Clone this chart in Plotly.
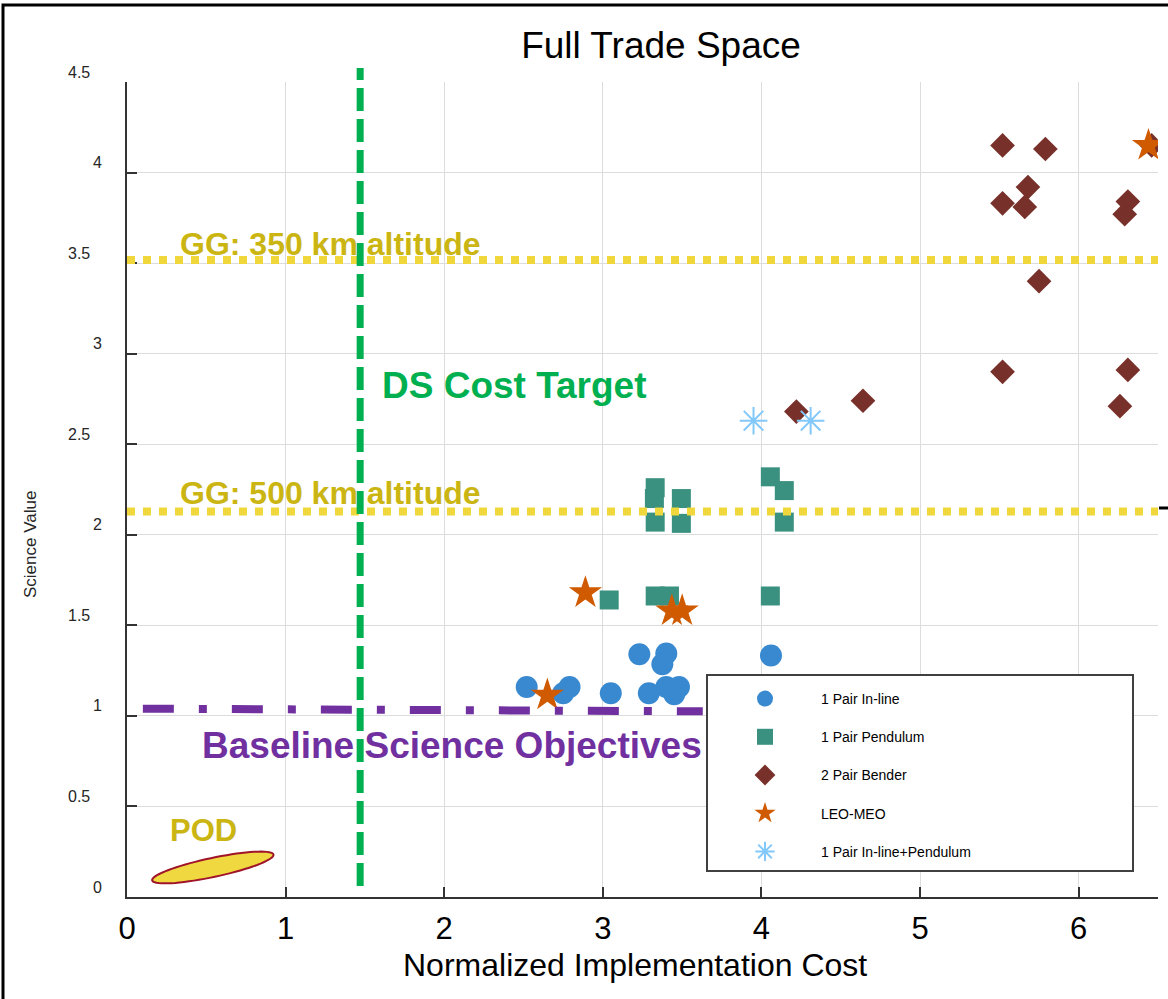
import numpy as np
import plotly.graph_objects as go

# ---------------- data ----------------
inline_x = [2.52, 2.79, 2.75, 3.05, 3.23, 3.40, 3.375, 3.29, 3.40, 3.48, 3.45, 4.06]
inline_y = [1.16, 1.16, 1.125, 1.125, 1.34, 1.345, 1.285, 1.125, 1.16, 1.16, 1.12, 1.333]

pend_x = [3.33, 3.325, 3.33, 3.495, 3.495, 4.056, 4.144, 4.144, 3.04, 3.33, 3.42, 4.056]
pend_y = [2.26, 2.20, 2.07, 2.20, 2.063, 2.32, 2.244, 2.07, 1.64, 1.662, 1.662, 1.662]

bender_x = [5.52, 5.79, 5.68, 5.52, 5.66, 6.31, 6.29, 5.75, 5.52, 6.31, 6.26, 6.46, 4.22, 4.64]
bender_y = [4.15, 4.13, 3.92, 3.83, 3.81, 3.84, 3.77, 3.40, 2.90, 2.91, 2.71, 4.15, 2.68, 2.74]

leomeo_x = [2.89, 3.435, 3.50, 2.65, 6.44]
leomeo_y = [1.68, 1.58, 1.58, 1.115, 4.15]

combo_x = [3.95, 4.31]
combo_y = [2.63, 2.63]

series_names = ["1 Pair In-line", "1 Pair Pendulum", "2 Pair Bender", "LEO-MEO",
                "1 Pair In-line+Pendulum"]

y_ticks = [0, 0.5, 1, 1.5, 2, 2.5, 3, 3.5, 4, 4.5]
y_tick_labels = ["0", "0.5", "1", "1.5", "2", "2.5", "3", "3.5", "4", "4.5"]
x_ticks = [0, 1, 2, 3, 4, 5, 6]

gg350_y = 3.517
gg500_y = 2.128
ds_cost_x = 1.47
baseline_x = [0.10, 3.63]
baseline_y = [1.04, 1.025]

# POD ellipse (center in data units, semi-axes in px, tilt in deg)
pod_cx, pod_cy = 0.541, 0.163
pod_a_px, pod_b_px, pod_tilt = 62.0, 9.5, 12.0

# ---------------- layout geometry ----------------
W, H = 1168, 999
ML, MR, MT, MB = 127, 10, 82, 102
PW, PH = W - ML - MR, H - MT - MB
X_RANGE = [0, 6.5]
Y_RANGE = [0, 4.5]
px_per_x = PW / (X_RANGE[1] - X_RANGE[0])
px_per_y = PH / (Y_RANGE[1] - Y_RANGE[0])


def px2paper_x(px):
    return (px - ML) / PW


def py2paper_y(py):
    return (H - MB - py) / PH


FONT = "Liberation Sans, Arial, Helvetica, sans-serif"

fig = go.Figure()

fig.add_trace(go.Scatter(x=inline_x, y=inline_y, mode="markers", name=series_names[0],
                         legendgroup="a",
                         marker=dict(symbol="circle", size=22, color="#3889D0", line=dict(width=0))))
fig.add_trace(go.Scatter(x=pend_x, y=pend_y, mode="markers", name=series_names[1],
                         legendgroup="b",
                         marker=dict(symbol="square", size=19, color="#3A9180", line=dict(width=0))))
fig.add_trace(go.Scatter(x=bender_x, y=bender_y, mode="markers", name=series_names[2],
                         legendgroup="c",
                         marker=dict(symbol="diamond", size=19, color="#78302A", line=dict(width=0))))
fig.add_trace(go.Scatter(x=leomeo_x, y=leomeo_y, mode="markers", name=series_names[3],
                         legendgroup="d",
                         marker=dict(symbol="star", size=25, color="#D05A00", line=dict(width=0))))
fig.add_trace(go.Scatter(x=combo_x, y=combo_y, mode="markers", name=series_names[4],
                         legendgroup="e",
                         marker=dict(symbol="asterisk-open", size=23, color="#82C8FA",
                                     line=dict(width=2, color="#82C8FA"))))

shapes = []
# legend frame (white background, covers grid)
shapes.append(dict(type="rect", xref="paper", yref="paper",
                   x0=px2paper_x(707), x1=px2paper_x(1133), y0=py2paper_y(871), y1=py2paper_y(675),
                   fillcolor="white", line=dict(color="#404040", width=2), layer="above"))
# yellow dotted lines
for yv in (gg350_y, gg500_y):
    shapes.append(dict(type="line", xref="x", yref="y", x0=X_RANGE[0], x1=X_RANGE[1] + 0.05,
                       y0=yv, y1=yv, line=dict(color="#F0D83C", width=8, dash="dot"),
                       layer="above"))
# green dashed vertical line
shapes.append(dict(type="line", xref="x", yref="paper", x0=ds_cost_x, x1=ds_cost_x,
                   y0=py2paper_y(886), y1=py2paper_y(68),
                   line=dict(color="#00B050", width=7, dash="23px,8px"), layer="above"))
# purple dash-dot baseline
shapes.append(dict(type="line", xref="x", yref="y", x0=baseline_x[0], x1=baseline_x[1],
                   y0=baseline_y[0], y1=baseline_y[1],
                   line=dict(color="#7030A0", width=8, dash="31px,25px,8px,25px"), layer="above"))
# POD ellipse
t = np.linspace(0, 2 * np.pi, 73)
th = np.deg2rad(pod_tilt)
ex = pod_cx + (pod_a_px * np.cos(th) * np.cos(t) - pod_b_px * np.sin(th) * np.sin(t)) / px_per_x
ey = pod_cy + (pod_a_px * np.sin(th) * np.cos(t) + pod_b_px * np.cos(th) * np.sin(t)) / px_per_y
path = "M " + " L ".join(f"{a:.4f},{b:.4f}" for a, b in zip(ex, ey)) + " Z"
shapes.append(dict(type="path", xref="x", yref="y", path=path,
                   fillcolor="#F0D840", line=dict(color="#A0142A", width=2), layer="above"))
# outer frame (left & top visible)
shapes.append(dict(type="rect", xref="paper", yref="paper",
                   x0=px2paper_x(3), x1=px2paper_x(W + 10), y0=py2paper_y(H + 10), y1=py2paper_y(5),
                   line=dict(color="black", width=3), fillcolor="rgba(0,0,0,0)", layer="above"))
# small stray mark at right edge
shapes.append(dict(type="line", xref="paper", yref="paper",
                   x0=px2paper_x(1159), x1=px2paper_x(1168), y0=py2paper_y(508), y1=py2paper_y(508),
                   line=dict(color="black", width=3), layer="above"))

annotations = []
# y tick labels (offset above grid, as in reference)
for v, lab in zip(y_ticks, y_tick_labels):
    annotations.append(dict(x=0, xref="paper", y=v, yref="y", text=lab, showarrow=False,
                            xanchor="right", yanchor="middle",
                            xshift=(-35 if "." in lab else -23), yshift=10,
                            font=dict(family=FONT, size=16, color="#262626")))
# y axis title
annotations.append(dict(x=px2paper_x(30), xref="paper", y=py2paper_y(545), yref="paper",
                        text="Science Value", textangle=-90, showarrow=False,
                        xanchor="center", yanchor="middle",
                        font=dict(family=FONT, size=17, color="#262626")))
# x axis title
annotations.append(dict(x=px2paper_x(635), xref="paper", y=py2paper_y(965), yref="paper",
                        text="Normalized Implementation Cost", showarrow=False,
                        xanchor="center", yanchor="middle",
                        font=dict(family=FONT, size=32, color="black")))
# chart text labels
gold = "#CBB512"
annotations.append(dict(x=(178 - ML) / px_per_x, y=(H - MB - 244) / px_per_y, text="<b>GG: 350 km altitude</b>",
                        showarrow=False, xanchor="left", yanchor="middle",
                        font=dict(family=FONT, size=32, color=gold)))
annotations.append(dict(x=(178 - ML) / px_per_x, y=(H - MB - 493) / px_per_y, text="<b>GG: 500 km altitude</b>",
                        showarrow=False, xanchor="left", yanchor="middle",
                        font=dict(family=FONT, size=32, color=gold)))
annotations.append(dict(x=(380 - ML) / px_per_x, y=(H - MB - 385) / px_per_y, text="<b>DS Cost Target</b>",
                        showarrow=False, xanchor="left", yanchor="middle",
                        font=dict(family=FONT, size=37, color="#00B050")))
annotations.append(dict(x=(200 - ML) / px_per_x, y=(H - MB - 745) / px_per_y,
                        text="<b>Baseline Science Objectives</b>",
                        showarrow=False, xanchor="left", yanchor="middle",
                        font=dict(family=FONT, size=37, color="#7030A0")))
annotations.append(dict(x=(168 - ML) / px_per_x, y=(H - MB - 830) / px_per_y, text="<b>POD</b>",
                        showarrow=False, xanchor="left", yanchor="middle",
                        font=dict(family=FONT, size=31, color=gold)))

fig.update_layout(
    width=W, height=H,
    margin=dict(l=ML, r=MR, t=MT, b=MB, pad=0),
    paper_bgcolor="white", plot_bgcolor="white",
    font=dict(family=FONT, color="black"),
    title=dict(text="Full Trade Space", x=px2paper_x(661), xref="paper", xanchor="center",
               y=1 - 45 / H, yref="container", yanchor="middle",
               font=dict(family=FONT, size=37, color="black")),
    xaxis=dict(range=X_RANGE, tickvals=x_ticks, ticks="inside", ticklen=10, tickwidth=1.5,
               tickcolor="#333333", showline=True, linecolor="#333333", linewidth=1.5,
               showgrid=True, gridcolor="#DCDCDC", gridwidth=1.2, zeroline=False,
               tickfont=dict(family=FONT, size=31, color="black"), ticklabelstandoff=3,
               fixedrange=True),
    yaxis=dict(range=Y_RANGE, tickvals=y_ticks, ticks="inside", ticklen=10, tickwidth=1.5,
               tickcolor="#333333", showline=True, linecolor="#333333", linewidth=1.5,
               showgrid=True, gridcolor="#DCDCDC", gridwidth=1.2, zeroline=False,
               showticklabels=False, fixedrange=True),
    legend=dict(x=px2paper_x(709), y=py2paper_y(683), xanchor="left", yanchor="top",
                bgcolor="rgba(0,0,0,0)", borderwidth=0, itemwidth=102,
                tracegroupgap=17, traceorder="grouped",
                font=dict(family=FONT, size=14, color="black")),
    shapes=shapes,
    annotations=annotations,
    showlegend=True,
)

fig.write_html("out.html", config={"displayModeBar": False},
               post_script="document.body.style.margin='0';document.body.style.padding='0';")
